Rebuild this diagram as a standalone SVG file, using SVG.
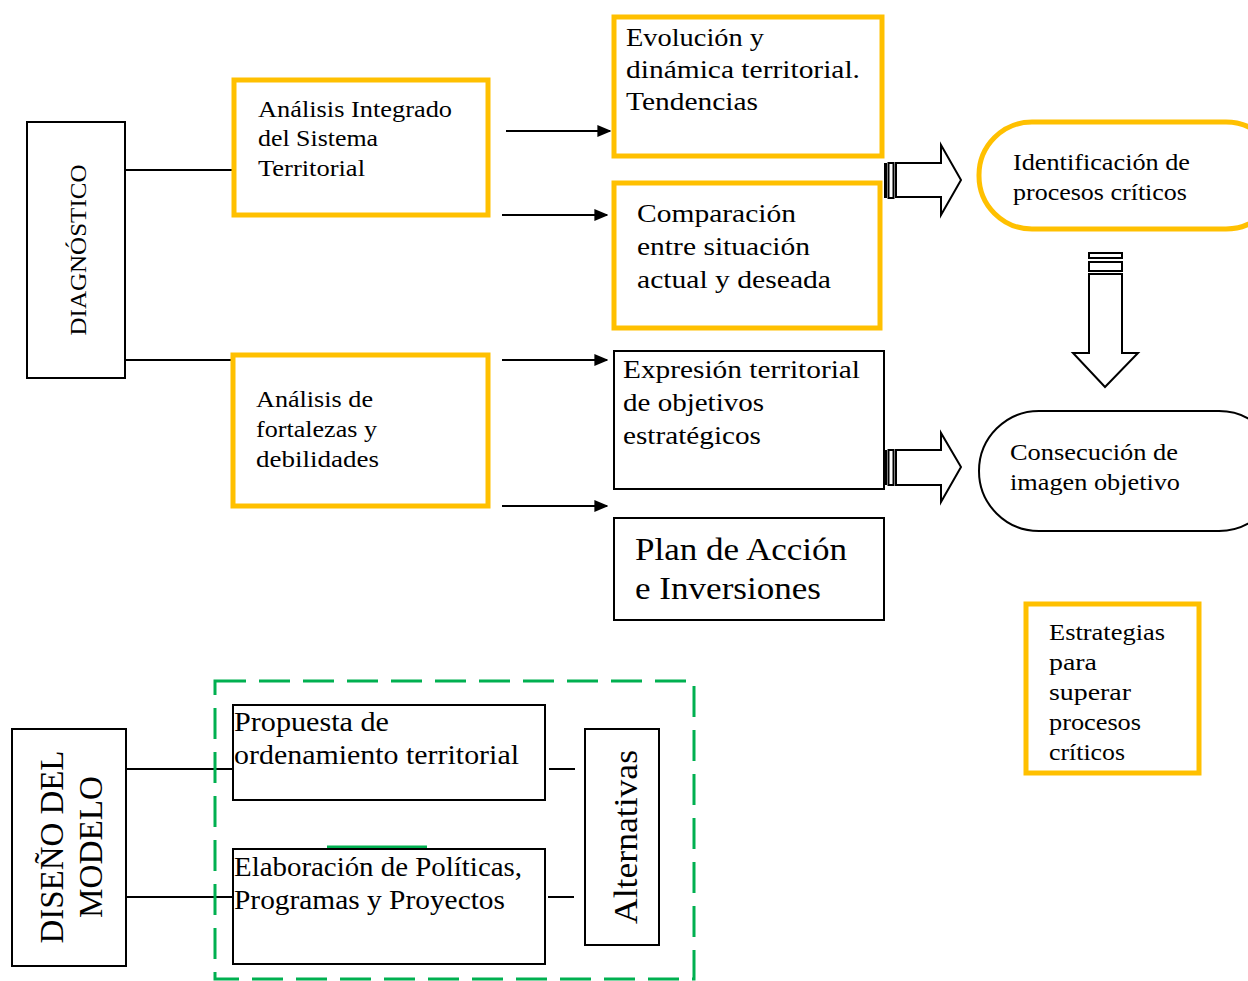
<svg xmlns="http://www.w3.org/2000/svg" width="1248" height="981" viewBox="0 0 1248 981">
  <defs>
    <style>
      text { font-family: "Liberation Serif", "Times New Roman", serif; fill: #000; }
      .ybox { fill: #fff; stroke: #FFC000; stroke-width: 5; }
      .bbox { fill: #fff; stroke: #000; stroke-width: 2; }
      .line { stroke: #000; stroke-width: 2; fill: none; }
      .blk { fill: #fff; stroke: #000; stroke-width: 2; stroke-linejoin: miter; }
      .t22 { font-size: 23px; }
      .t24 { font-size: 25px; }
      .t26 { font-size: 27px; }
      .t30 { font-size: 32px; }
      .t32 { font-size: 34px; }
    </style>
    <marker id="arr" viewBox="0 0 10 10" refX="9" refY="5" markerWidth="7" markerHeight="6" orient="auto" markerUnits="strokeWidth" preserveAspectRatio="none">
      <path d="M0,0 L10,5 L0,10 z" fill="#000"/>
    </marker>
  </defs>

  <rect width="1248" height="981" fill="#fff"/>

  <!-- connectors -->
  <g id="connectors">
    <line class="line" x1="125" y1="170" x2="234" y2="170"/>
    <line class="line" x1="125" y1="360" x2="233" y2="360"/>
    <line class="line" x1="506" y1="131" x2="610" y2="131" stroke-width="2.5" marker-end="url(#arr)"/>
    <line class="line" x1="502" y1="215" x2="607" y2="215" stroke-width="2.5" marker-end="url(#arr)"/>
    <line class="line" x1="502" y1="360" x2="607" y2="360" stroke-width="2.5" marker-end="url(#arr)"/>
    <line class="line" x1="502" y1="506" x2="607" y2="506" stroke-width="2.5" marker-end="url(#arr)"/>

    <!-- block arrow: evolución/comparación to identificación -->
    <g id="blockarrow-1">
      <rect x="884" y="163" width="3" height="35" fill="#000"/>
      <rect x="888.5" y="163" width="5" height="35" class="blk"/>
      <path class="blk" d="M896,163 L941,163 L941,145 L961,180 L941,215 L941,197 L896,197 Z"/>
    </g>
    <!-- block arrow: identificación down to consecución -->
    <g id="blockarrow-2">
      <rect x="1089" y="253" width="33" height="5" class="blk"/>
      <rect x="1089" y="262" width="33" height="9" class="blk"/>
      <path class="blk" d="M1089,274 L1122,274 L1122,353 L1138,353 L1105,387 L1073,353 L1089,353 Z"/>
    </g>
    <!-- block arrow: expresión to consecución -->
    <g id="blockarrow-3">
      <rect x="884" y="450" width="3" height="35" fill="#000"/>
      <rect x="888.5" y="450" width="5" height="35" class="blk"/>
      <path class="blk" d="M896,450 L941,450 L941,433 L961,467 L941,502 L941,485 L896,485 Z"/>
    </g>

    <line class="line" x1="126" y1="769" x2="236" y2="769"/>
    <line class="line" x1="122" y1="897" x2="233" y2="897"/>
    <line class="line" x1="549" y1="769" x2="575" y2="769"/>
    <line class="line" x1="548" y1="897" x2="574" y2="897"/>
  </g>

  <!-- diagnosis column -->
  <g id="diagnostico">
    <rect class="bbox" x="27" y="122" width="98" height="256"/>
    <text class="t22" transform="translate(86,250) rotate(-90)" text-anchor="middle" textLength="171" lengthAdjust="spacingAndGlyphs">DIAGNÓSTICO</text>
  </g>

  <g id="analisis-integrado">
    <rect class="ybox" x="234" y="80" width="254" height="135"/>
    <text class="t22" x="258" y="117" textLength="194" lengthAdjust="spacingAndGlyphs">Análisis Integrado</text>
    <text class="t22" x="258" y="146" textLength="120" lengthAdjust="spacingAndGlyphs">del Sistema</text>
    <text class="t22" x="258" y="176" textLength="107" lengthAdjust="spacingAndGlyphs">Territorial</text>
  </g>

  <g id="analisis-fortalezas">
    <rect class="ybox" x="233" y="355" width="255" height="151"/>
    <text class="t22" x="256" y="407" textLength="117" lengthAdjust="spacingAndGlyphs">Análisis de</text>
    <text class="t22" x="256" y="437" textLength="121" lengthAdjust="spacingAndGlyphs">fortalezas y</text>
    <text class="t22" x="256" y="467" textLength="123" lengthAdjust="spacingAndGlyphs">debilidades</text>
  </g>

  <g id="evolucion">
    <rect class="ybox" x="614" y="17" width="268" height="139"/>
    <text class="t24" x="626" y="46" textLength="138" lengthAdjust="spacingAndGlyphs">Evolución y</text>
    <text class="t24" x="626" y="78" textLength="234" lengthAdjust="spacingAndGlyphs">dinámica territorial.</text>
    <text class="t24" x="626" y="110" textLength="132" lengthAdjust="spacingAndGlyphs">Tendencias</text>
  </g>

  <g id="comparacion">
    <rect class="ybox" x="614" y="183" width="266" height="145"/>
    <text class="t24" x="637" y="222" textLength="159" lengthAdjust="spacingAndGlyphs">Comparación</text>
    <text class="t24" x="637" y="255" textLength="173" lengthAdjust="spacingAndGlyphs">entre situación</text>
    <text class="t24" x="637" y="288" textLength="194" lengthAdjust="spacingAndGlyphs">actual y deseada</text>
  </g>

  <g id="expresion">
    <rect class="bbox" x="614" y="351" width="270" height="138"/>
    <text class="t24" x="623" y="378" textLength="237" lengthAdjust="spacingAndGlyphs">Expresión territorial</text>
    <text class="t24" x="623" y="411" textLength="141" lengthAdjust="spacingAndGlyphs">de objetivos</text>
    <text class="t24" x="623" y="444" textLength="138" lengthAdjust="spacingAndGlyphs">estratégicos</text>
  </g>

  <g id="plan-accion">
    <rect class="bbox" x="614" y="518" width="270" height="102"/>
    <text class="t30" x="635" y="560" textLength="212" lengthAdjust="spacingAndGlyphs">Plan de Acción</text>
    <text class="t30" x="635" y="599" textLength="186" lengthAdjust="spacingAndGlyphs">e Inversiones</text>
  </g>

  <g id="identificacion">
    <rect class="ybox" x="979" y="122" width="300" height="107" rx="53" ry="53"/>
    <text class="t22" x="1013" y="170" textLength="177" lengthAdjust="spacingAndGlyphs">Identificación de</text>
    <text class="t22" x="1013" y="200" textLength="174" lengthAdjust="spacingAndGlyphs">procesos críticos</text>
  </g>

  <g id="consecucion">
    <rect class="bbox" x="979" y="411" width="300" height="120" rx="60" ry="60"/>
    <text class="t22" x="1010" y="460" textLength="168" lengthAdjust="spacingAndGlyphs">Consecución de</text>
    <text class="t22" x="1010" y="490" textLength="170" lengthAdjust="spacingAndGlyphs">imagen objetivo</text>
  </g>

  <g id="estrategias">
    <rect class="ybox" x="1026" y="604" width="173" height="169"/>
    <text class="t22" x="1049" y="640" textLength="116" lengthAdjust="spacingAndGlyphs">Estrategias</text>
    <text class="t22" x="1049" y="670" textLength="48" lengthAdjust="spacingAndGlyphs">para</text>
    <text class="t22" x="1049" y="700" textLength="82" lengthAdjust="spacingAndGlyphs">superar</text>
    <text class="t22" x="1049" y="730" textLength="92" lengthAdjust="spacingAndGlyphs">procesos</text>
    <text class="t22" x="1049" y="760" textLength="76" lengthAdjust="spacingAndGlyphs">críticos</text>
  </g>

  <!-- model design section -->
  <g id="grupo-alternativas">
    <rect x="215" y="681" width="479" height="298" fill="none" stroke="#00B050" stroke-width="3" stroke-dasharray="31 13"/>
    <line x1="327" y1="847" x2="427" y2="847" stroke="#00B050" stroke-width="3"/>
  </g>

  <g id="diseno-modelo">
    <rect class="bbox" x="12" y="729" width="114" height="237"/>
    <text class="t32" transform="translate(63,847) rotate(-90)" text-anchor="middle" textLength="193" lengthAdjust="spacingAndGlyphs">DISEÑO DEL</text>
    <text class="t32" transform="translate(102,847) rotate(-90)" text-anchor="middle" textLength="142" lengthAdjust="spacingAndGlyphs">MODELO</text>
  </g>

  <g id="propuesta">
    <rect class="bbox" x="233" y="705" width="312" height="95"/>
    <text class="t26" x="234" y="731" textLength="155" lengthAdjust="spacingAndGlyphs">Propuesta de</text>
    <text class="t26" x="234" y="764" textLength="285" lengthAdjust="spacingAndGlyphs">ordenamiento territorial</text>
  </g>

  <g id="elaboracion">
    <rect class="bbox" x="233" y="849" width="312" height="115"/>
    <text class="t26" x="234" y="876" textLength="288" lengthAdjust="spacingAndGlyphs">Elaboración de Políticas,</text>
    <text class="t26" x="234" y="909" textLength="271" lengthAdjust="spacingAndGlyphs">Programas y Proyectos</text>
  </g>

  <g id="alternativas">
    <rect class="bbox" x="585" y="729" width="74" height="216"/>
    <text class="t32" transform="translate(637,837) rotate(-90)" text-anchor="middle" textLength="174" lengthAdjust="spacingAndGlyphs">Alternativas</text>
  </g>
</svg>
